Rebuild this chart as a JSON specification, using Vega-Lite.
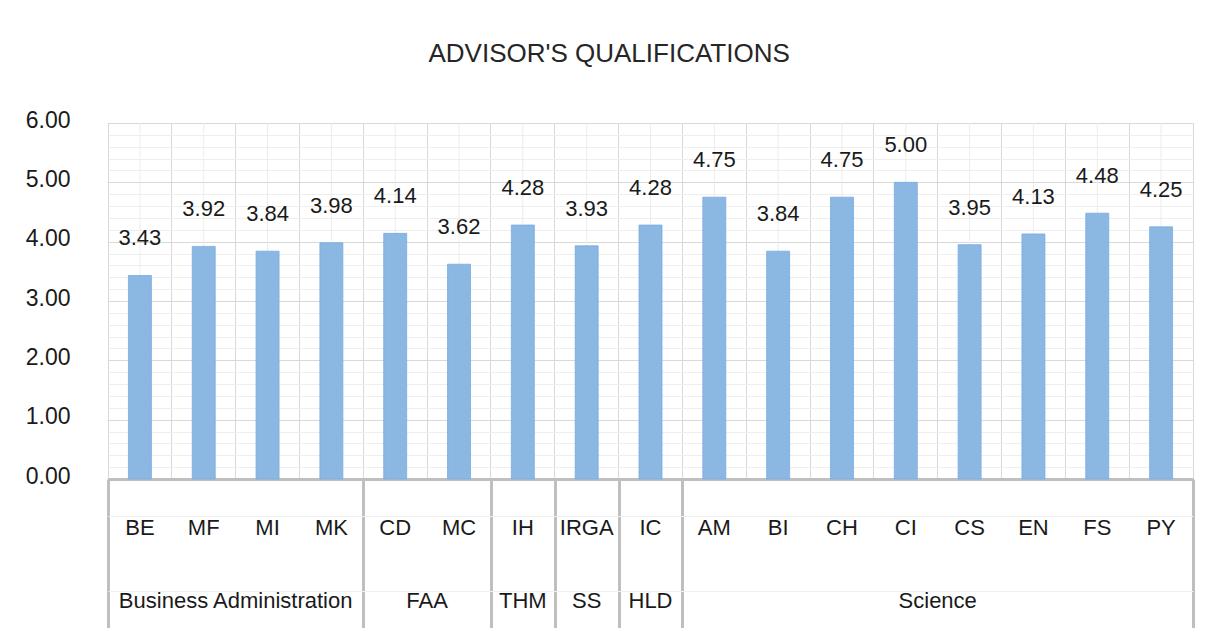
{
  "$schema": "https://vega.github.io/schema/vega-lite/v6.json",
  "padding": {"left": 24, "top": 40, "right": 22, "bottom": 0},
  "background": "white",
  "bounds": "flush",
  "spacing": 0,
  "config": {
    "font": "Liberation Sans",
    "view": {"stroke": null}
  },
  "title": {
    "text": "ADVISOR'S QUALIFICATIONS",
    "fontSize": 26,
    "fontWeight": "normal",
    "font": "Liberation Sans",
    "color": "#262626",
    "anchor": "middle",
    "offset": 42
  },
  "datasets": {
    "d": [
      {"code": "BE", "group": "Business Administration", "value": 3.43},
      {"code": "MF", "group": "Business Administration", "value": 3.92},
      {"code": "MI", "group": "Business Administration", "value": 3.84},
      {"code": "MK", "group": "Business Administration", "value": 3.98},
      {"code": "CD", "group": "FAA", "value": 4.14},
      {"code": "MC", "group": "FAA", "value": 3.62},
      {"code": "IH", "group": "THM", "value": 4.28},
      {"code": "IRGA", "group": "SS", "value": 3.93},
      {"code": "IC", "group": "HLD", "value": 4.28},
      {"code": "AM", "group": "Science", "value": 4.75},
      {"code": "BI", "group": "Science", "value": 3.84},
      {"code": "CH", "group": "Science", "value": 4.75},
      {"code": "CI", "group": "Science", "value": 5.0},
      {"code": "CS", "group": "Science", "value": 3.95},
      {"code": "EN", "group": "Science", "value": 4.13},
      {"code": "FS", "group": "Science", "value": 4.48},
      {"code": "PY", "group": "Science", "value": 4.25}
    ]
  },
  "vconcat": [
    {
      "width": 1085,
      "height": 356,
      "data": {"name": "d"},
      "view": {"stroke": "#d9d9d9", "strokeWidth": 1},
      "resolve": {"axis": {"y": "independent"}},
      "encoding": {
        "x": {
          "field": "code",
          "type": "nominal",
          "sort": null,
          "scale": {"paddingInner": 0, "paddingOuter": 0},
          "axis": {
            "title": null,
            "labels": false,
            "ticks": false,
            "tickSize": 0,
            "labelPadding": 0,
            "minExtent": 0,
            "domain": true,
            "domainColor": "#bfbfbf",
            "domainWidth": 3,
            "grid": true,
            "gridColor": "#d9d9d9",
            "gridWidth": 1,
            "bandPosition": 0
          }
        }
      },
      "layer": [
        {
          "mark": {"type": "rule", "color": "#ececec", "strokeWidth": 1},
          "encoding": {}
        },
        {
          "mark": {"type": "bar", "width": {"band": 0.36}, "color": "#8bb7e3", "stroke": "#78abdf", "strokeWidth": 0.8},
          "encoding": {
            "y": {
              "field": "value",
              "type": "quantitative",
              "scale": {"domain": [0, 6], "nice": false},
              "axis": {
                "title": null,
                "values": [0, 1, 2, 3, 4, 5, 6],
                "format": ".2f",
                "labelOverlap": false,
                "labelFontSize": 23,
                "labelColor": "#1a1a1a",
                "labelPadding": 38,
                "labelOffset": -3,
                "ticks": false,
                "tickSize": 0,
                "domain": false,
                "grid": true,
                "gridColor": "#d9d9d9"
              }
            }
          }
        },
        {
          "mark": {"type": "text", "fontSize": 22, "color": "#1a1a1a", "baseline": "alphabetic", "dy": -30},
          "encoding": {
            "y": {
              "field": "value",
              "type": "quantitative",
              "axis": {
                "orient": "right",
                "title": null,
                "values": [0.2, 0.4, 0.6, 0.8, 1.2, 1.4, 1.6, 1.8, 2.2, 2.4, 2.6, 2.8, 3.2, 3.4, 3.6, 3.8, 4.2, 4.4, 4.6, 4.8, 5.2, 5.4, 5.6, 5.8],
                "labels": false,
                "ticks": false,
                "tickSize": 0,
                "domain": false,
                "minExtent": 0,
                "grid": true,
                "gridColor": "#eeeeee"
              }
            },
            "text": {"field": "value", "type": "quantitative", "format": ".2f"}
          }
        }
      ]
    },
    {
      "width": 1085,
      "height": 149,
      "data": {"name": "d"},
      "transform": [{"window": [{"op": "row_number", "as": "idx"}]}],
      "layer": [
        {
          "mark": {"type": "text", "fontSize": 22, "color": "#1a1a1a", "dy": 12},
          "encoding": {
            "x": {
              "field": "idx",
              "type": "quantitative",
              "scale": {"domain": [0.5, 17.5], "nice": false, "zero": false},
              "axis": {
                "title": null,
                "values": [0.5, 4.5, 6.5, 7.5, 8.5, 9.5, 17.5],
                "labels": false,
                "ticks": false,
                "domain": false,
                "grid": true,
                "gridColor": "#bfbfbf",
                "gridWidth": 3
              }
            },
            "y": {
              "datum": "code",
              "type": "nominal",
              "scale": {"domain": ["code", "group"], "paddingInner": 0, "paddingOuter": 0},
              "axis": {
                "title": null,
                "labels": false,
                "ticks": false,
                "domain": false,
                "grid": true,
                "gridColor": "#f0f0f0",
                "bandPosition": 0
              }
            },
            "text": {"field": "code", "type": "nominal"}
          }
        },
        {
          "transform": [{"aggregate": [{"op": "mean", "field": "idx", "as": "mid"}], "groupby": ["group"]}],
          "mark": {"type": "text", "fontSize": 22, "color": "#1a1a1a", "dy": 10},
          "encoding": {
            "x": {"field": "mid", "type": "quantitative"},
            "y": {"datum": "group", "type": "nominal"},
            "text": {"field": "group", "type": "nominal"}
          }
        }
      ]
    }
  ]
}
